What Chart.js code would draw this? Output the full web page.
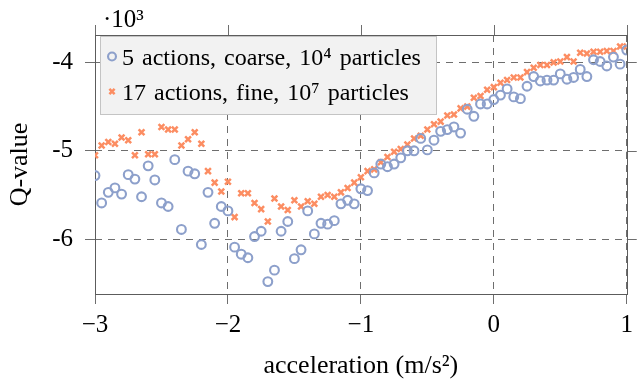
<!DOCTYPE html>
<html><head><meta charset="utf-8">
<script src="https://cdn.jsdelivr.net/npm/chart.js@4.4.1/dist/chart.umd.min.js"></script>
<style>html,body{margin:0;padding:0;background:#fff;}#wrap{position:relative;width:639px;height:379px;}</style>
</head><body><div id="wrap"><canvas id="c" width="639" height="379"></canvas></div>
<script>
// acceleration (m/s^2)
const accel = [-3,-2.95,-2.9,-2.85,-2.8,-2.75,-2.7,-2.65,-2.6,-2.55,
  -2.5,-2.45,-2.4,-2.35,-2.3,-2.25,-2.2,-2.15,-2.1,-2.05,
  -2,-1.95,-1.9,-1.85,-1.8,-1.75,-1.7,-1.65,-1.6,-1.55,
  -1.5,-1.45,-1.4,-1.35,-1.3,-1.25,-1.2,-1.15,-1.1,-1.05,
  -1,-0.95,-0.9,-0.85,-0.8,-0.75,-0.7,-0.65,-0.6,-0.55,
  -0.5,-0.45,-0.4,-0.35,-0.3,-0.25,-0.2,-0.15,-0.1,-0.05,
  0,0.05,0.1,0.15,0.2,0.25,0.3,0.35,0.4,0.45,
  0.5,0.55,0.6,0.65,0.7,0.75,0.8,0.85,0.9,0.95,1];
// Q-value (x 10^3): 5 actions, coarse, 10^4 particles
const coarse = [-5.28,-5.59,-5.47,-5.42,-5.49,-5.27,-5.32,-5.52,-5.17,-5.33,
  -5.59,-5.63,-5.10,-5.89,-5.23,-5.26,-6.06,-5.47,-5.82,-5.63,
  -5.68,-6.09,-6.17,-6.21,-5.97,-5.91,-6.48,-6.35,-5.91,-5.80,
  -6.22,-6.12,-5.68,-5.94,-5.82,-5.83,-5.79,-5.60,-5.56,-5.60,
  -5.43,-5.45,-5.25,-5.15,-5.18,-5.15,-5.08,-5.00,-5.00,-4.86,
  -4.99,-4.88,-4.78,-4.76,-4.73,-4.80,-4.53,-4.61,-4.47,-4.47,
  -4.42,-4.37,-4.30,-4.39,-4.41,-4.27,-4.16,-4.21,-4.20,-4.20,
  -4.13,-4.19,-4.17,-4.08,-4.16,-3.97,-3.99,-4.04,-3.94,-4.02,-3.86];
// Q-value (x 10^3): 17 actions, fine, 10^7 particles
const fine = [-5.05,-4.94,-4.90,-4.92,-4.85,-4.88,-5.05,-4.79,-5.04,-5.04,
  -4.73,-4.76,-4.76,-4.94,-4.87,-4.79,-4.92,-5.23,-5.36,-5.46,
  -5.35,-5.75,-5.48,-5.48,-5.59,-5.66,-5.80,-5.54,-5.63,-5.67,
  -5.56,-5.63,-5.57,-5.60,-5.52,-5.50,-5.52,-5.47,-5.42,-5.36,
  -5.30,-5.23,-5.21,-5.13,-5.07,-5.01,-4.98,-4.93,-4.86,-4.83,
  -4.76,-4.70,-4.67,-4.60,-4.59,-4.52,-4.50,-4.40,-4.38,-4.31,
  -4.28,-4.23,-4.20,-4.17,-4.17,-4.11,-4.06,-4.03,-4.03,-4.00,
  -3.99,-3.94,-3.99,-3.89,-3.90,-3.88,-3.88,-3.87,-3.87,-3.82,-3.82];
const seriesLabels = ['5 actions, coarse, 10\u2074 particles', '17 actions, fine, 10\u2077 particles'];
const xTicks = [-3, -2, -1, 0, 1];
const yTicks = [-6, -5, -4];
const yScaleLabel = '\u00b710\u00b3';

const FONT = "'Liberation Serif','Times New Roman',serif";
const GRID = '#6e6e6e';
const FRAME = '#5c5c5c';
const BLUE = '#8da0cb';
const ORANGE = '#fc8d62';

const toPts = (ys) => accel.map((x, i) => ({x: x, y: ys[i]}));

const decor = {
  id: 'decor',
  beforeDatasetsDraw(chart) {
    const {ctx, chartArea: a, scales: {x, y}} = chart;
    ctx.save();
    ctx.lineWidth = 1;
    ctx.strokeStyle = GRID;
    ctx.setLineDash([]);
    xTicks.forEach(v => {
      const px = Math.round(x.getPixelForValue(v)) + 0.5;
      ctx.beginPath(); ctx.moveTo(px, a.top - 10); ctx.lineTo(px, a.top); ctx.stroke();
    });
    yTicks.forEach(v => {
      const py = Math.round(y.getPixelForValue(v)) + 0.5;
      ctx.beginPath(); ctx.moveTo(a.right, py); ctx.lineTo(a.right + 10, py); ctx.stroke();
    });
    ctx.strokeStyle = FRAME;
    ctx.strokeRect(Math.round(a.left) + 0.5, Math.round(a.top) + 0.5, Math.round(a.right - a.left), Math.round(a.bottom - a.top));
    ctx.restore();
  },
  afterDraw(chart) {
    const {ctx} = chart;
    ctx.save();
    ctx.fillStyle = '#000';
    ctx.font = '25px ' + FONT;
    ctx.textBaseline = 'alphabetic';
    ctx.textAlign = 'left';
    ctx.fillText(yScaleLabel, 103, 27);
    const L = 100, T = 36, R = 437, B = 115;
    ctx.fillStyle = '#f2f2f2';
    ctx.fillRect(L, T, R - L, B - T);
    ctx.strokeStyle = '#c4c4c4';
    ctx.lineWidth = 1;
    ctx.strokeRect(L + 0.5, T + 0.5, R - L - 1, B - T - 1);
    const rows = [
      {ds: chart.data.datasets[0], my: 56.5, by: 65},
      {ds: chart.data.datasets[1], my: 91.5, by: 99.5}
    ];
    rows.forEach(r => {
      const ds = r.ds;
      ctx.strokeStyle = ds.borderColor;
      ctx.fillStyle = 'rgba(0,0,0,0)';
      ctx.lineWidth = ds.borderWidth;
      Chart.helpers.drawPoint(ctx, {pointStyle: ds.pointStyle, radius: ds.pointRadius * 0.9, borderWidth: ds.borderWidth, rotation: 0}, 112, r.my);
      ctx.fillStyle = '#000';
      ctx.font = '24px ' + FONT;
      try { ctx.wordSpacing = '2px'; } catch (e) {}
      ctx.fillText(ds.label, 122, r.by);
    });
    ctx.restore();
  }
};

new Chart(document.getElementById('c'), {
  type: 'scatter',
  data: {
    datasets: [
      {label: seriesLabels[0], data: toPts(coarse), pointStyle: 'circle', pointRadius: 4.4, borderWidth: 2.1,
       borderColor: BLUE, backgroundColor: 'rgba(0,0,0,0)', pointBackgroundColor: 'rgba(0,0,0,0)'},
      {label: seriesLabels[1], data: toPts(fine), pointStyle: 'crossRot', pointRadius: 4.1, borderWidth: 2.5,
       borderColor: ORANGE, backgroundColor: ORANGE}
    ]
  },
  options: {
    responsive: false,
    animation: false,
    devicePixelRatio: 1,
    layout: {padding: {top: 35, right: 11, left: 0, bottom: 0}},
    plugins: {legend: {display: false}, tooltip: {enabled: false}, title: {display: false}},
    scales: {
      x: {
        type: 'linear', min: -3, max: 1,
        afterBuildTicks: s => { s.ticks = xTicks.map(v => ({value: v})); },
        afterFit: s => { s.height = 85; },
        ticks: {
          font: {family: FONT, size: 25}, color: '#000', padding: 6, maxRotation: 0,
          callback: v => (v < 0 ? '\u2212' + Math.abs(v) : String(v))
        },
        grid: {color: GRID, lineWidth: 1, drawTicks: true, tickLength: 10, tickColor: GRID, tickBorderDash: []},
        border: {display: false, dash: [7, 6]},
        title: {display: true, text: 'acceleration (m/s\u00b2)', color: '#000',
                font: {family: FONT, size: 26, lineHeight: 1}, padding: {top: 0, bottom: 0}}
      },
      y: {
        type: 'linear', min: -6.62, max: -3.69,
        afterBuildTicks: s => { s.ticks = yTicks.map(v => ({value: v})); },
        afterFit: s => { s.width = 95; },
        ticks: {
          font: {family: FONT, size: 25}, color: '#000', padding: 12,
          callback: v => '-' + Math.abs(v)
        },
        grid: {color: GRID, lineWidth: 1, drawTicks: true, tickLength: 10, tickColor: GRID, tickBorderDash: []},
        border: {display: false, dash: [7, 6]},
        title: {display: true, text: 'Q-value', color: '#000',
                font: {family: FONT, size: 26, lineHeight: 1}, padding: {top: 7, bottom: 0}}
      }
    }
  },
  plugins: [decor]
});
</script></body></html>
